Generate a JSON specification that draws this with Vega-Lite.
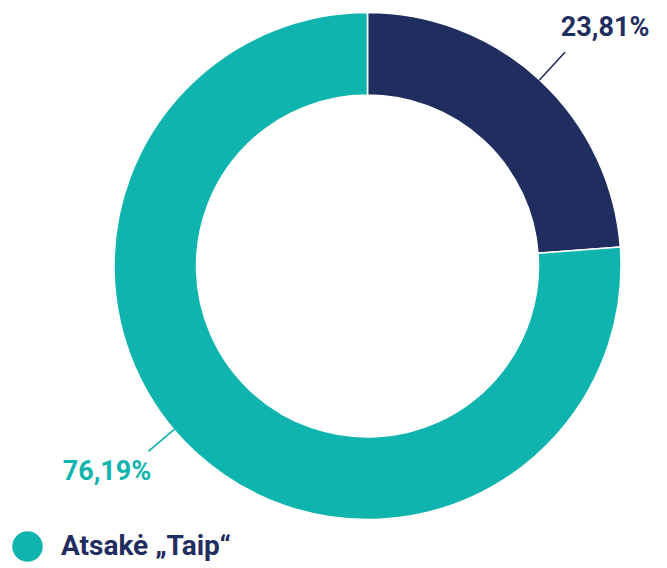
{
  "$schema": "https://vega.github.io/schema/vega-lite/v6.json",
  "width": 599,
  "height": 532,
  "autosize": {"type": "none"},
  "padding": {"left": 68, "top": 0, "right": 0, "bottom": 36},
  "background": "white",
  "config": {
    "view": {"stroke": null},
    "locale": {"number": {"decimal": ",", "thousands": " ", "grouping": [3], "currency": ["", " €"], "percent": "%"}}
  },
  "data": {
    "values": [
      {"answer": "Atsakė „Ne“", "share": 0.2381},
      {"answer": "Atsakė „Taip“", "share": 0.7619}
    ]
  },
  "transform": [
    {"stack": "share", "groupby": [], "sort": [{"field": "share", "order": "ascending"}], "as": ["s0", "s1"]}
  ],
  "encoding": {
    "theta": {"field": "s0", "type": "quantitative", "scale": {"domain": [0, 1]}},
    "color": {
      "field": "answer",
      "type": "nominal",
      "scale": {"domain": ["Atsakė „Ne“", "Atsakė „Taip“"], "range": ["#1f2d5f", "#10b4af"]},
      "legend": {
        "values": ["Atsakė „Taip“"],
        "title": null,
        "orient": "none",
        "legendX": -56,
        "legendY": 531,
        "padding": 0,
        "symbolType": "circle",
        "symbolSize": 930,
        "symbolStrokeWidth": 0,
        "symbolOpacity": 1,
        "labelFont": "Roboto",
        "labelFontSize": 28,
        "labelFontWeight": "bold",
        "labelColor": "#1f2d5f",
        "labelOffset": 18,
        "labelLimit": 400
      }
    }
  },
  "layer": [
    {
      "mark": {"type": "arc", "outerRadius": 253.5, "innerRadius": 171, "stroke": "white", "strokeWidth": 1.5},
      "encoding": {"theta2": {"field": "s1"}}
    },
    {
      "transform": [{"filter": {"field": "answer", "equal": "Atsakė „Ne“"}}],
      "mark": {"type": "arc", "outerRadius": 291, "innerRadius": 253, "thetaOffset": 0.743, "theta2Offset": -0.7473},
      "encoding": {"theta2": {"field": "s1"}}
    },
    {
      "transform": [{"filter": {"field": "answer", "equal": "Atsakė „Taip“"}}],
      "mark": {"type": "arc", "outerRadius": 287, "innerRadius": 253, "thetaOffset": 2.5113, "theta2Offset": -2.2698},
      "encoding": {"theta2": {"field": "s1"}}
    },
    {
      "transform": [{"filter": {"field": "answer", "equal": "Atsakė „Ne“"}}],
      "mark": {"type": "text", "radius": 336.6, "thetaOffset": 0.7837, "align": "center", "baseline": "middle", "font": "Roboto", "fontWeight": "bold", "fontSize": 27},
      "encoding": {"text": {"field": "share", "type": "quantitative", "format": ".2%"}}
    },
    {
      "transform": [{"filter": {"field": "answer", "equal": "Atsakė „Taip“"}}],
      "mark": {"type": "text", "radius": 332.4, "thetaOffset": 2.5462, "align": "center", "baseline": "middle", "font": "Roboto", "fontWeight": "bold", "fontSize": 27},
      "encoding": {"text": {"field": "share", "type": "quantitative", "format": ".2%"}}
    }
  ]
}
